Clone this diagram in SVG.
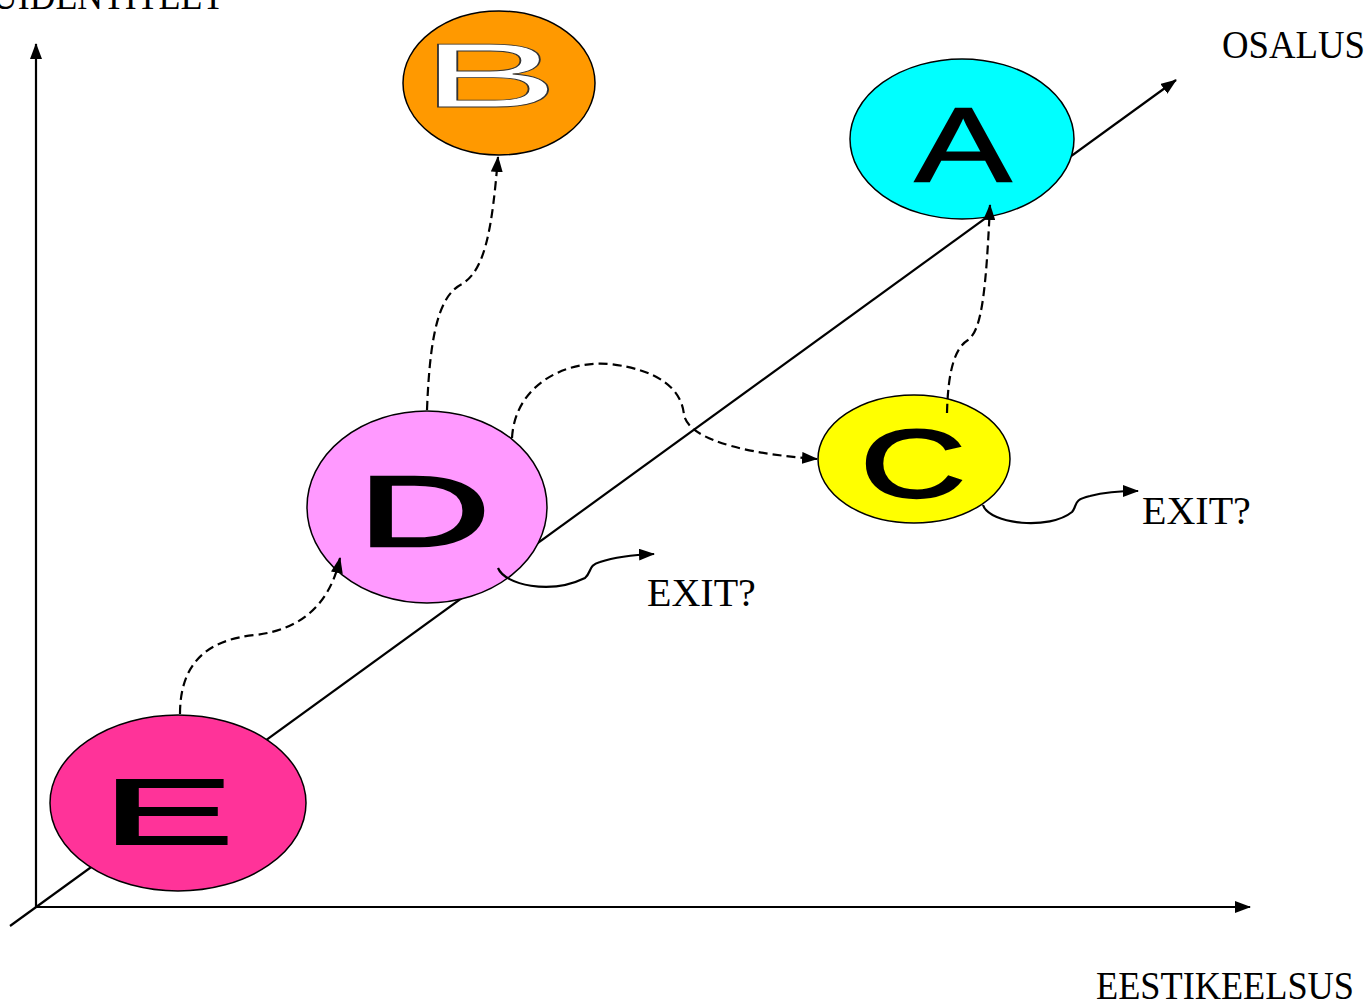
<svg xmlns="http://www.w3.org/2000/svg" width="1369" height="1004" viewBox="0 0 1369 1004">
<style>
.ax{stroke:#000;stroke-width:2.2;fill:none}
.node{stroke:#000;stroke-width:1.5}
.let{font-family:"Liberation Sans",Arial,sans-serif;text-anchor:middle;fill:#000;stroke:#000;stroke-width:1.6}
.lbl{font-family:"Liberation Serif","Times New Roman",serif;font-size:40px;fill:#000}
.dash{stroke:#000;stroke-width:2.2;fill:none;stroke-dasharray:9 5}
.sol{stroke:#000;stroke-width:2.2;fill:none}
</style>
<defs>
<marker id="ah" markerUnits="userSpaceOnUse" viewBox="0 0 16 12" refX="15" refY="6" markerWidth="16" markerHeight="12" orient="auto">
<path d="M0,0 L16,6 L0,12 z" fill="#000" stroke="none"/>
</marker>
</defs>
<rect width="1369" height="1004" fill="#fff"/>
<g id="axes">
<line class="ax" x1="36" y1="907" x2="36" y2="44" marker-end="url(#ah)"/>
<line class="ax" x1="36" y1="907" x2="1250" y2="907" marker-end="url(#ah)"/>
<line class="ax" x1="10" y1="926" x2="1176" y2="80" marker-end="url(#ah)"/>
</g>
<g id="labels">
<text class="lbl" x="-8" y="9" textLength="232" lengthAdjust="spacingAndGlyphs">UIDENTITEET</text>
<text class="lbl" x="1222" y="58" textLength="143" lengthAdjust="spacingAndGlyphs">OSALUS</text>
<text class="lbl" x="1096" y="999" textLength="258" lengthAdjust="spacingAndGlyphs">EESTIKEELSUS</text>
</g>
<g id="node-B">
<ellipse class="node" cx="499" cy="83" rx="96" ry="72" fill="#FF9900"/>
<text class="let" transform="translate(490,107) scale(2.3,1)" font-size="90" style="fill:#fff;stroke:#333;stroke-width:0.8">B</text>
</g>
<g id="node-A">
<ellipse class="node" cx="962" cy="139" rx="112" ry="80" fill="#00FFFF"/>
<text class="let" transform="translate(963,181) scale(1.38,1)" font-size="105">A</text>
</g>
<g id="node-C">
<ellipse class="node" cx="914" cy="459" rx="96" ry="64" fill="#FFFF00"/>
<text class="let" transform="translate(913,497) scale(1.52,1)" font-size="96" style="stroke-width:2.4">C</text>
</g>
<g id="node-D">
<ellipse class="node" cx="427" cy="507" rx="120" ry="96" fill="#FF99FF"/>
<text class="let" transform="translate(424,546) scale(1.85,1)" font-size="100" style="stroke-width:2.4">D</text>
</g>
<g id="node-E">
<ellipse class="node" cx="178" cy="803" rx="128" ry="88" fill="#FF3399"/>
<text class="let" transform="translate(168,844) scale(2.15,1)" font-size="92" style="stroke-width:2">E</text>
</g>
<g id="connectors">
<path class="dash" d="M180,714 C180,665 205,640 255,635 C300,630 330,605 340,558" marker-end="url(#ah)"/>
<path class="dash" d="M427,410 C430,330 440,295 462,284 C485,270 492,230 498,157" marker-end="url(#ah)"/>
<path class="dash" d="M512,438 C515,385 565,360 610,364 C660,370 682,390 684,415 C690,443 760,455 817,459" marker-end="url(#ah)"/>
<path class="dash" d="M947,413 C948,370 955,348 968,340 C982,330 986,290 990,205" marker-end="url(#ah)"/>
<path class="sol" d="M498,568 C505,585 550,595 585,578 C592,572 588,565 600,562 C615,557 630,555 654,554" marker-end="url(#ah)"/>
<path class="sol" d="M983,505 C990,525 1050,530 1072,512 C1078,505 1072,500 1090,496 C1105,492 1120,491 1138,491" marker-end="url(#ah)"/>
</g>
<g id="exit-labels">
<text class="lbl" x="647" y="606">EXIT?</text>
<text class="lbl" x="1142" y="524">EXIT?</text>
</g>
</svg>
